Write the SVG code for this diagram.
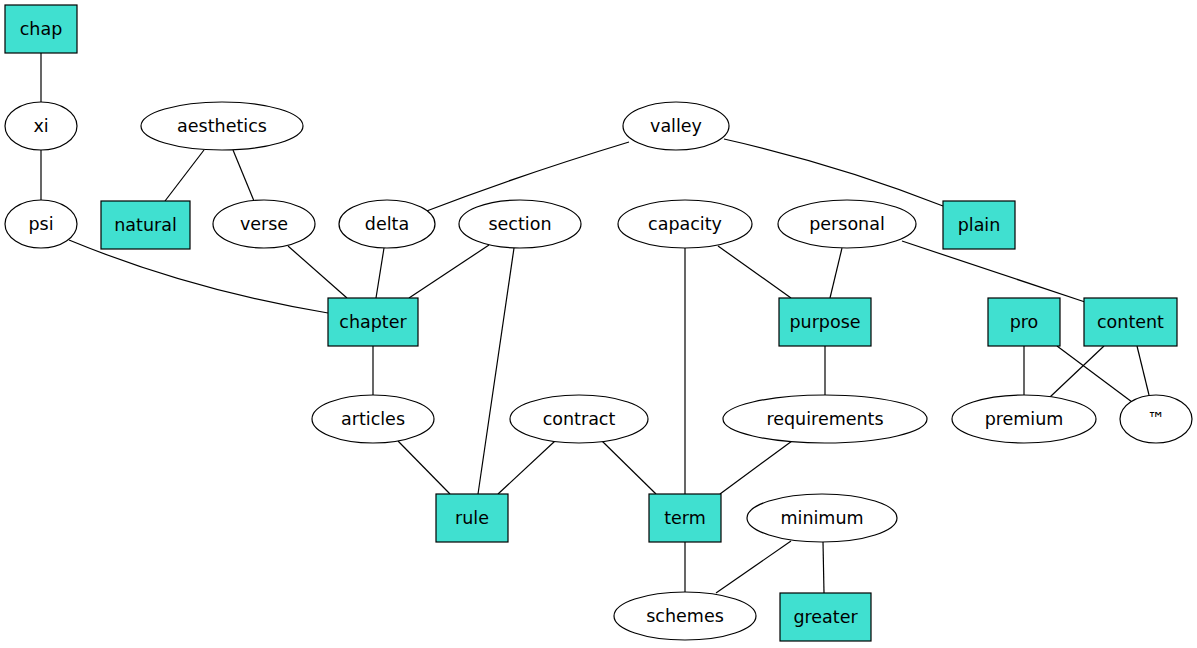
<svg xmlns="http://www.w3.org/2000/svg" width="1197" height="648" viewBox="0 0 1197 648">
<style>
.box{fill:#40e0d0;stroke:#000;stroke-width:1.2}
.ell{fill:#fff;stroke:#000;stroke-width:1.2}
.lbl{font-family:"DejaVu Sans",sans-serif;font-size:17.5px;text-anchor:middle;fill:#000}
#edges line,#edges path{stroke:#000;stroke-width:1.2;fill:none}
</style>
<rect width="1197" height="648" fill="#fff"/>
<g id="edges">
<line x1="41" y1="53" x2="41" y2="102"/>
<line x1="41" y1="150" x2="41" y2="200"/>
<line x1="204" y1="150" x2="165" y2="201"/>
<line x1="233" y1="150" x2="254" y2="201"/>
<path d="M629,142 Q520,175 424,212"/>
<path d="M724,139 Q840,165 943,206"/>
<path d="M69,240 Q190,290 328,313"/>
<line x1="288" y1="246" x2="347" y2="298"/>
<line x1="384" y1="248" x2="376" y2="298"/>
<line x1="489" y1="245" x2="409" y2="298"/>
<line x1="514" y1="248" x2="478" y2="494"/>
<line x1="685" y1="248" x2="685" y2="494"/>
<line x1="718" y1="246" x2="791" y2="298"/>
<line x1="842" y1="248" x2="830" y2="298"/>
<line x1="902" y1="241" x2="1085" y2="302"/>
<line x1="373" y1="346" x2="373" y2="395"/>
<line x1="825" y1="346" x2="825" y2="395"/>
<line x1="1024" y1="346" x2="1024" y2="395"/>
<line x1="1057" y1="346" x2="1132" y2="402"/>
<line x1="1104" y1="346" x2="1050" y2="397"/>
<line x1="1137" y1="346" x2="1149" y2="395"/>
<line x1="398" y1="441" x2="450" y2="494"/>
<line x1="555" y1="441" x2="498" y2="494"/>
<line x1="602" y1="441" x2="656" y2="494"/>
<line x1="792" y1="441" x2="720" y2="494"/>
<line x1="685" y1="542" x2="685" y2="592"/>
<line x1="791" y1="541" x2="716" y2="593"/>
<line x1="823" y1="542" x2="824" y2="593"/>
</g>
<g id="chap"><rect class="box" x="5" y="5" width="72" height="48"/><text class="lbl" x="41" y="34.5">chap</text></g>
<g id="xi"><ellipse class="ell" cx="41" cy="126" rx="36" ry="24"/><text class="lbl" x="41" y="131.5">xi</text></g>
<g id="psi"><ellipse class="ell" cx="41" cy="224" rx="36" ry="24"/><text class="lbl" x="41" y="229.5">psi</text></g>
<g id="aesthetics"><ellipse class="ell" cx="222" cy="126" rx="81" ry="24"/><text class="lbl" x="222" y="131.5">aesthetics</text></g>
<g id="natural"><rect class="box" x="101" y="201" width="89" height="48"/><text class="lbl" x="145.5" y="230.5">natural</text></g>
<g id="verse"><ellipse class="ell" cx="264" cy="224" rx="51" ry="24"/><text class="lbl" x="264" y="229.5">verse</text></g>
<g id="delta"><ellipse class="ell" cx="387" cy="224" rx="48" ry="24"/><text class="lbl" x="387" y="229.5">delta</text></g>
<g id="section"><ellipse class="ell" cx="520" cy="224" rx="61" ry="24"/><text class="lbl" x="520" y="229.5">section</text></g>
<g id="valley"><ellipse class="ell" cx="676" cy="126" rx="53" ry="24"/><text class="lbl" x="676" y="131.5">valley</text></g>
<g id="capacity"><ellipse class="ell" cx="685" cy="224" rx="67" ry="24"/><text class="lbl" x="685" y="229.5">capacity</text></g>
<g id="personal"><ellipse class="ell" cx="847" cy="224" rx="69" ry="24"/><text class="lbl" x="847" y="229.5">personal</text></g>
<g id="plain"><rect class="box" x="943" y="201" width="72" height="48"/><text class="lbl" x="979" y="230.5">plain</text></g>
<g id="chapter"><rect class="box" x="328" y="298" width="90" height="48"/><text class="lbl" x="373" y="327.5">chapter</text></g>
<g id="purpose"><rect class="box" x="779" y="298" width="92" height="48"/><text class="lbl" x="825" y="327.5">purpose</text></g>
<g id="pro"><rect class="box" x="988" y="298" width="72" height="48"/><text class="lbl" x="1024" y="327.5">pro</text></g>
<g id="content"><rect class="box" x="1084" y="298" width="93" height="48"/><text class="lbl" x="1130.5" y="327.5">content</text></g>
<g id="articles"><ellipse class="ell" cx="373" cy="419" rx="61" ry="24"/><text class="lbl" x="373" y="424.5">articles</text></g>
<g id="contract"><ellipse class="ell" cx="579" cy="419" rx="69" ry="24"/><text class="lbl" x="579" y="424.5">contract</text></g>
<g id="requirements"><ellipse class="ell" cx="825" cy="419" rx="102" ry="24"/><text class="lbl" x="825" y="424.5">requirements</text></g>
<g id="premium"><ellipse class="ell" cx="1024" cy="419" rx="72" ry="24"/><text class="lbl" x="1024" y="424.5">premium</text></g>
<g id="tm"><ellipse class="ell" cx="1156" cy="419" rx="36" ry="24"/><text class="lbl" x="1156" y="424.5">™</text></g>
<g id="rule"><rect class="box" x="436" y="494" width="72" height="48"/><text class="lbl" x="472" y="523.5">rule</text></g>
<g id="term"><rect class="box" x="649" y="494" width="72" height="48"/><text class="lbl" x="685" y="523.5">term</text></g>
<g id="minimum"><ellipse class="ell" cx="822" cy="518" rx="75" ry="24"/><text class="lbl" x="822" y="523.5">minimum</text></g>
<g id="schemes"><ellipse class="ell" cx="685" cy="616" rx="71" ry="24"/><text class="lbl" x="685" y="621.5">schemes</text></g>
<g id="greater"><rect class="box" x="780" y="593" width="91" height="48"/><text class="lbl" x="825.5" y="622.5">greater</text></g>
</svg>
